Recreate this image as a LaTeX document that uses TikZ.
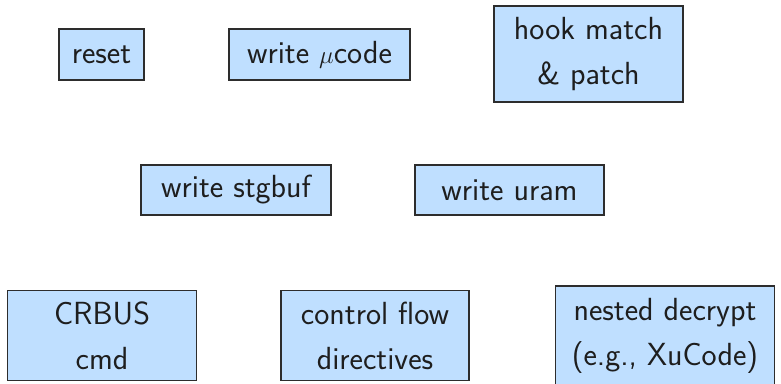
\documentclass[tikz,border=0pt]{standalone}
\usepackage{tikz}
\definecolor{boxfill}{RGB}{191,223,255}
\definecolor{boxline}{RGB}{45,45,45}
\definecolor{txt}{RGB}{30,30,30}
\tikzset{
  blk/.style={draw=boxline, line width=1.4pt, fill=boxfill, text=txt,
    inner sep=0pt, align=center, font=\sffamily\fontsize{32}{45}\selectfont},
}
\begin{document}
\begin{tikzpicture}[x=1pt,y=-1pt]
\useasboundingbox (0,0) rectangle (781,383);
\begin{scope}
\clip (0,0) rectangle (781,383);
\node[blk, minimum width=85pt, minimum height=51pt] (reset) at (101.5,54.5) {reset};
\node[blk, minimum width=181pt, minimum height=51pt] (ucode) at (319.5,54.5) {write $\mu$code};
\node[blk, minimum width=189pt, minimum height=96pt] (hook) at (588.5,54) {hook match\\\& patch};
\node[blk, minimum width=190pt, minimum height=50pt] (stgbuf) at (236,190) {write stgbuf};
\node[blk, minimum width=189pt, minimum height=50pt] (uram) at (509.5,190) {write uram};
\node[blk, minimum width=189pt, minimum height=90pt] (crbus) at (102,335.5) {CRBUS\\cmd};
\node[blk, minimum width=188pt, minimum height=90pt] (ctrl) at (375,335.5) {control flow\\directives};
\node[blk, minimum width=219pt, minimum height=100pt] (nested) at (665,336) {nested decrypt\\(e.g., XuCode)};
\end{scope}
\end{tikzpicture}
\end{document}
